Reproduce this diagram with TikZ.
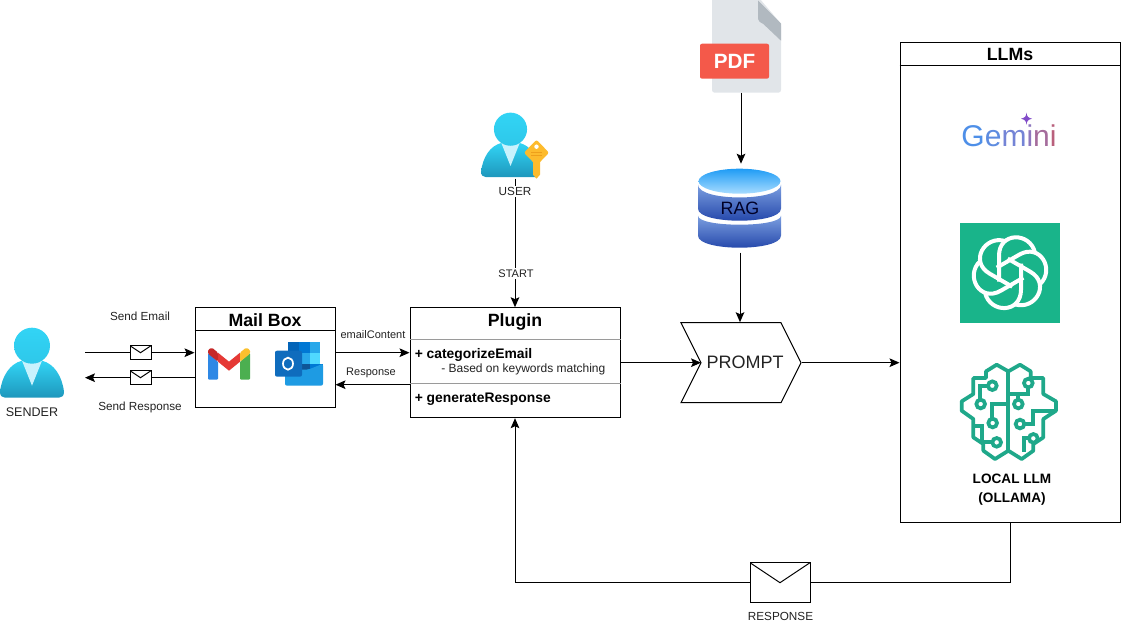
\documentclass[tikz,border=0pt]{standalone}
\usepackage{fontspec}
\usepackage{xcolor}
\usepackage{tikz}
\usetikzlibrary{shapes.symbols, arrows.meta, positioning, calc}
\setmainfont{Liberation Sans}
\definecolor{divider}{HTML}{9A9A9A}
\definecolor{darktext}{HTML}{222222}
\definecolor{skyhi}{HTML}{32D4F5}
\definecolor{skylo}{HTML}{1E97BC}
\definecolor{tie}{HTML}{C8F2FD}
\definecolor{openai}{HTML}{19B48A}
\definecolor{brainline}{HTML}{1FA88A}
\definecolor{pdfred}{HTML}{F4594A}
\definecolor{pdfbody}{HTML}{E1E5E9}
\definecolor{pdffold}{HTML}{B1B9C0}
\definecolor{keygold}{HTML}{FDBB2D}
\definecolor{keyline}{HTML}{EE9F1B}
\definecolor{bandhi}{HTML}{7C9FE0}
\definecolor{bandlo}{HTML}{1C3FA6}
\definecolor{caphi}{HTML}{1F9CF5}
\definecolor{caplo}{HTML}{A8DCFF}
\definecolor{gmailblue}{HTML}{2E88E5}
\definecolor{gmailgreen}{HTML}{4CAF50}
\definecolor{gmailred}{HTML}{E53935}
\definecolor{gmaildark}{HTML}{C62828}
\definecolor{gmailgold}{HTML}{FBC02D}
\definecolor{outA}{HTML}{0364B8}
\definecolor{outB}{HTML}{0078D4}
\definecolor{outC}{HTML}{28A8EA}
\definecolor{outD}{HTML}{50D9FF}
\definecolor{outE}{HTML}{14447D}
\definecolor{outF}{HTML}{1E9BE3}
\definecolor{outG}{HTML}{0F6CBD}
\tikzset{
  box/.style={
    rectangle, draw=black, line width=.75pt, fill=white,
    inner sep=0pt,
  },
  title/.style={font=\fontsize{13.3}{15}\selectfont\bfseries, text=black},
  method/.style={anchor=west, inner sep=0pt, font=\fontsize{10.4}{12}\selectfont\bfseries, text=black},
  note/.style={font=\fontsize{8.25}{10}\selectfont, text=darktext, inner sep=1pt},
  label/.style={font=\fontsize{8.8}{10}\selectfont, text=darktext, inner sep=1pt},
  envelope/.style={
    rectangle, draw=black, line width=.75pt, fill=white, inner sep=0pt,
    path picture={
      \draw[line width=.75pt] (path picture bounding box.north west)
        -- (path picture bounding box.center)
        -- (path picture bounding box.north east);
    },
  },
  slot/.style={rectangle, inner sep=0pt, outer sep=0pt},
  wire/.style={line width=.75pt, color=black},
  arrow/.style={-{Stealth[length=7.5pt,width=6.5pt,inset=1.5pt]}, line width=.75pt, color=black},
  split/.style={line width=.75pt, color=divider},
  circuit/.style={brainline, line width=2.8pt},
  person/.pic={
    \path[top color=skyhi, bottom color=skylo]
      (-32,46) .. controls (-30,30) and (-22,18) .. (-10,15) -- (10,15)
      .. controls (22,18) and (30,30) .. (32,46)
      .. controls (32,50) and (30,52) .. (27,52) -- (-27,52)
      .. controls (-30,52) and (-32,50) .. (-32,46) -- cycle;
    \fill[tie] (-10,15) -- (0,40) -- (10,15) -- cycle;
    \path[top color=skyhi, bottom color=skyhi!80!skylo] (0,0) circle[radius=18];
  },
}
\begin{document}
\begin{tikzpicture}[x=0.75pt,y=-0.75pt]
  \useasboundingbox (0,-0.7) rectangle (1121,622.3);

  \node[box,minimum width=105pt,minimum height=75pt] (mailbox) at (265,357) {};
  \node[box,minimum width=157.5pt,minimum height=82.5pt] (plugin) at (515,362) {};
  \node[box,minimum width=165pt,minimum height=360pt] (llms) at (1010,282) {};
  \node[signal,signal from=west,signal to=east,signal pointer angle=126.87,draw=black,line width=.75pt,
    minimum width=90pt,minimum height=60pt,inner sep=0pt] (prompt) at (741,362) {};
  \node[inner sep=0pt,font=\fontsize{13.5}{15}\selectfont,text=darktext] (prompttext) at (745,362) {PROMPT};

  \node[title] (mailtitle) at (265,319) {Mail Box};
  \draw[wire] ([yshift=-17.25pt]mailbox.north west) -- ([yshift=-17.25pt]mailbox.north east);
  \node[title] (plugintitle) at (515,321) {Plugin};
  \draw[split] ([yshift=-24pt]plugin.north west) -- ([yshift=-24pt]plugin.north east);
  \draw[split] ([yshift=-57pt]plugin.north west) -- ([yshift=-57pt]plugin.north east);
  \node[method] (categorize) at (414.5,354) {+ categorizeEmail};
  \node[anchor=west,inner sep=0pt,font=\fontsize{9}{10}\selectfont,text=darktext] (keywords) at (441,369) {- Based on keywords matching};
  \node[method] (generate) at (414.5,398) {+ generateResponse};
  \node[title] (llmtitle) at (1010,54) {LLMs};
  \draw[wire] ([yshift=-17.25pt]llms.north west) -- ([yshift=-17.25pt]llms.north east);

  \pic at (32,345) {person};
  \node[label,font=\fontsize{9.4}{11}\selectfont] (sender) at (32,411) {SENDER};
  \coordinate (sendin) at (85,352);
  \coordinate (sendout) at (85,377);
  \node[envelope,minimum width=15.75pt,minimum height=10.5pt] (mailenv) at (140.5,352) {};
  \node[envelope,minimum width=15.75pt,minimum height=10.5pt] (replyenv) at (140.5,377) {};
  \draw[wire] (sendin) -- (mailenv);
  \draw[arrow] (mailenv) -- (mailenv -| mailbox.west);
  \draw[wire] (replyenv -| mailbox.west) -- (replyenv);
  \draw[arrow] (replyenv) -- (sendout);
  \node[label] (sendemail) at (140,316) {Send Email};
  \node[label] (sendresponse) at (140,407) {Send Response};

  \draw[arrow] ([yshift=3.75pt]mailbox.east) -- ([yshift=7.5pt]plugin.west);
  \draw[arrow] ([yshift=-16.5pt]plugin.west) -- ([yshift=-20.25pt]mailbox.east);
  \node[note] (content) at (373,334) {emailContent};
  \node[note] (reply) at (371,372) {Response};

  \pic[scale=.92] at (510.5,128.5) {person};
  \fill[keygold,rounded corners=1.5pt] (536.5,139) -- (549,152) -- (536.5,165) -- (524,152) -- cycle;
  \fill[keygold] (533,160) rectangle (540,174) (533,174) -- (536.5,178) -- (540,174) -- cycle;
  \fill[white] (536.5,146) circle[radius=2.2];
  \draw[keyline,line width=.5pt] (531,152) -- (542,152) (531,154.5) -- (542,154.5);
  \coordinate (userbase) at (515,178);
  \draw[arrow] (userbase) -- (plugin.north);
  \node[label,fill=white] (user) at (515,191) {USER};
  \node[note,fill=white] (start) at (516,273) {START};

  \node[slot,minimum width=51.75pt,minimum height=69pt] (pdf) at (741,46) {};
  \fill[pdfbody,rounded corners=2pt] (712,-4) -- (758,-4) -- (781,23) -- (781,92) -- (712,92) -- cycle;
  \fill[pdffold] (758,0) -- (781,23) -- (781,40) -- (763,23) .. controls (760,21) and (758,20) .. (758,16) -- cycle;
  \fill[pdffold] (758,0) -- (781,23) -- (765,23) .. controls (760,23) and (758,20) .. (758,16) -- cycle;
  \fill[pdfred,rounded corners=1.5pt] (700,43) rectangle (769,78);
  \node[text=white,font=\fontsize{15.5}{17}\selectfont\bfseries,inner sep=0pt] (pdftext) at (734.5,60.5) {PDF};

  \node[slot,minimum width=62.25pt,minimum height=66.75pt] (rag) at (740,207.5) {};
  \path[top color=bandhi,bottom color=bandlo]
    (698,184) .. controls (698,201) and (781,201) .. (781,184) -- (781,208)
    .. controls (781,224) and (698,224) .. (698,208) -- cycle;
  \path[top color=bandhi,bottom color=bandlo]
    (698,215) .. controls (698,227) and (781,227) .. (781,215) -- (781,235)
    .. controls (781,251) and (698,251) .. (698,235) -- cycle;
  \path[top color=caphi,bottom color=caplo] (739.5,180.5) ellipse[x radius=41,y radius=12.5];
  \node[font=\fontsize{13.4}{15}\selectfont,text=black!85!blue,inner sep=0pt] (ragtext) at (740,208) {RAG};

  \draw[arrow] (pdf.south) -- (pdf.south |- rag.north);
  \draw[arrow] (rag.south) -- (rag.south |- prompt.north);
  \draw[arrow] (plugin.east) -- (701,362);
  \draw[arrow] (prompt.east) -- (prompt.east -| llms.west);

  \node[envelope,minimum width=45pt,minimum height=30pt] (respenv) at (780,582) {};
  \draw[wire] (llms.south) |- (respenv);
  \draw[arrow] (respenv) -| (plugin.south);
  \node[label] (response) at (780.5,615.5) {RESPONSE};

  \fill[gmailblue,rounded corners=.8pt] (208,352) -- (218,361) -- (218,379) -- (208,379) -- cycle;
  \fill[gmailgreen,rounded corners=.8pt] (250,352) -- (240,361) -- (240,379) -- (250,379) -- cycle;
  \fill[gmailred] (218,352) -- (229,361) -- (240,352) -- (240,361) -- (229,370) -- (218,361) -- cycle;
  \fill[gmaildark,rounded corners=1pt] (208,353) -- (208,349) -- (212,347) -- (218,352) -- (218,361) -- cycle;
  \fill[gmailgold,rounded corners=1pt] (250,353) -- (250,349) -- (246,347) -- (240,352) -- (240,361) -- cycle;

  \fill[outA] (288,341) rectangle (299,352);
  \fill[outB] (299,341) rectangle (310,352);
  \fill[outC] (310,341) rectangle (320,352);
  \fill[outB] (288,352) rectangle (299,363);
  \fill[outC] (299,352) rectangle (310,363);
  \fill[outD] (310,352) rectangle (320,363);
  \fill[outE!70!outB] (299,363) rectangle (310,372);
  \fill[outB] (310,363) rectangle (323,372);
  \fill[outF,rounded corners=1.5pt] (285,369) -- (308,369) -- (323,363) -- (323,385) -- (285,385) -- cycle;
  \fill[outG,rounded corners=1.5pt] (275,350) rectangle (302,376);
  \draw[white,line width=1.3pt] (288,363) circle[x radius=5,y radius=6];

  \node[inner sep=0pt,font=\fontsize{22.5}{24}\selectfont] (gemini) at (1009,135)
    {\textcolor[HTML]{4E8FE8}{G}\textcolor[HTML]{5E8CE0}{e}\textcolor[HTML]{7484D6}{m}\textcolor[HTML]{8E78BE}{i}\textcolor[HTML]{A56C9C}{n}\textcolor[HTML]{B9607C}{i}};
  \fill[violet!60!blue!70] (1026.5,112) .. controls (1027,116) and (1028,117) .. (1032,118)
    .. controls (1028,119) and (1027,120) .. (1026.5,124) .. controls (1026,120) and (1025,119) .. (1021,118)
    .. controls (1025,117) and (1026,116) .. (1026.5,112) -- cycle;

  \node[slot,fill=openai,minimum width=75pt,minimum height=75pt] (chatgpt) at (1010,272) {};
  \foreach \a in {0,60,...,300}{
    \draw[white,line width=3pt,rotate around={\a:(chatgpt.center)},shift={(1010,272)}]
      (-11,9) -- (-11,-17) .. controls (-11,-41) and (20,-41) .. (25,-20);
  }

  \begin{scope}[shift={(940,350)},x=0.25pt,y=-0.25pt]
    \draw[circuit,line join=round]
      (205,62) -- (170,42) -- (138,62) -- (138,82) -- (100,82) -- (100,130) -- (65,152) -- (65,180)
      -- (100,205) -- (100,260) -- (130,280) -- (130,300) -- (165,325) -- (205,300)
      -- (245,325) -- (280,300) -- (280,280) -- (310,260) -- (310,205) -- (348,180) -- (348,152)
      -- (310,130) -- (310,82) -- (272,82) -- (272,62) -- (240,42) -- cycle;
    \draw[circuit] (205,62) -- (205,300);
    \draw[circuit]
      (144,105) -- (120,105) -- (120,147) (157,204) -- (157,160) -- (205,160)
      (157,275) -- (125,275) -- (125,225) -- (100,225)
      (265,110) -- (265,130) -- (205,130) (235,130) -- (235,147)
      (253,220) -- (278,220) -- (278,182) -- (348,182)
      (267,263) -- (252,263) -- (252,305);
    \foreach \cx/\cy in {157/105,122/160,158/217,170/275,265/97,235/160,240/220,280/263}{
      \draw[circuit] (\cx,\cy) circle[radius=13];
    }
  \end{scope}
  \node[inner sep=0pt,align=center,font=\fontsize{10.2}{14.2}\selectfont\bfseries,text=black] (locallm) at (1012,488.5) {LOCAL LLM\\(OLLAMA)};
\end{tikzpicture}
\end{document}
